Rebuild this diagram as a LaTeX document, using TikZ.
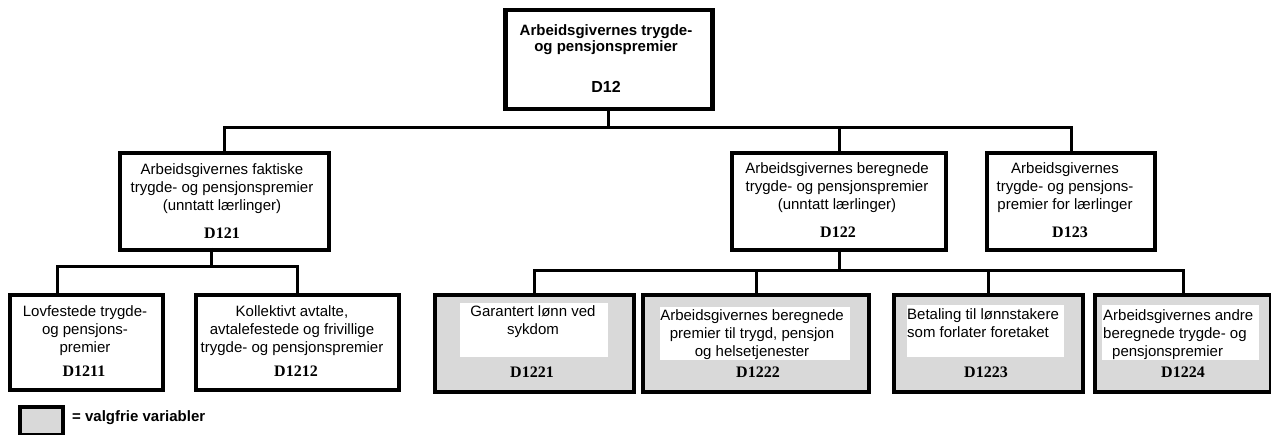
\documentclass[tikz,border=0pt]{standalone}
\usepackage{fontspec}
\setmainfont{Liberation Serif}
\setsansfont{Liberation Sans}
\begin{document}
\begin{tikzpicture}[x=1pt,y=-1pt,
  box/.style={draw, line width=4pt, anchor=north west, inner sep=0pt, fill=white},
  optbox/.style={box, fill=black!15},
  inner/.style={fill=white, anchor=north west, inner sep=0pt},
  lbl/.style={font=\sffamily\fontsize{15}{18}\selectfont, align=center, inner sep=0pt},
  lbll/.style={font=\sffamily\fontsize{15}{18}\selectfont, align=left, inner sep=0pt, anchor=west},
  code/.style={font=\rmfamily\bfseries\fontsize{16}{18}\selectfont, inner sep=0pt},
  conn/.style={line width=3pt}]
\useasboundingbox (0,0) rectangle (1271,435);

% boxes
\node[box, line width=4.5pt, minimum width=207pt, minimum height=99pt] (d12) at (503,8) {};
\node[box, minimum width=209pt, minimum height=97pt] (d121) at (118,151) {};
\node[box, minimum width=214pt, minimum height=97pt] (d122) at (730,151) {};
\node[box, minimum width=168pt, minimum height=97pt] (d123) at (985,151) {};
\node[box, minimum width=153pt, minimum height=95pt] (d1211) at (8,293) {};
\node[box, minimum width=203pt, minimum height=95pt] (d1212) at (194,293) {};
\node[optbox, minimum width=199pt, minimum height=97pt] (d1221) at (433,293) {};
\node[optbox, minimum width=226pt, minimum height=97pt] (d1222) at (641,293) {};
\node[optbox, minimum width=189pt, minimum height=97pt] (d1223) at (892,293) {};
\node[optbox, minimum width=176pt, minimum height=97pt] (d1224) at (1093,293) {};

% white inner areas of optional boxes
\node[inner, minimum width=148pt, minimum height=54pt] (w1221) at (460,303) {};
\node[inner, minimum width=190pt, minimum height=53pt] (w1222) at (660,307) {};
\node[inner, minimum width=157pt, minimum height=52pt] (w1223) at (907,305) {};
\node[inner, minimum width=157pt, minimum height=55pt] (w1224) at (1102,305) {};

% texts
\node[lbl, font=\sffamily\bfseries\fontsize{15}{16}\selectfont] (t12) at (606,40) {Arbeidsgivernes trygde-\\og pensjonspremier};
\node[lbl, font=\sffamily\bfseries\fontsize{16}{18}\selectfont] (c12) at (606,87) {D12};
\node[lbl] (t121) at (222,189) {Arbeidsgivernes faktiske\\trygde- og pensjonspremier\\(unntatt lærlinger)};
\node[code] (c121) at (222,233) {D121};
\node[lbl] (t122) at (837,188) {Arbeidsgivernes beregnede\\trygde- og pensjonspremier\\(unntatt lærlinger)};
\node[code] (c122) at (838,232) {D122};
\node[lbl] (t123) at (1065,188) {Arbeidsgivernes\\trygde- og pensjons-\\premier for lærlinger};
\node[code] (c123) at (1070,232) {D123};
\node[lbl] (t1211) at (85,331) {Lovfestede trygde-\\og pensjons-\\premier};
\node[code] (c1211) at (84,371) {D1211};
\node[lbl] (t1212) at (292,331) {Kollektivt avtalte,\\avtalefestede og frivillige\\trygde- og pensjonspremier};
\node[code] (c1212) at (296,371) {D1212};
\node[lbl] (t1221) at (533,322) {Garantert lønn ved\\sykdom};
\node[code] (c1221) at (532,372) {D1221};
\node[lbl] (t1222) at (752,335) {Arbeidsgivernes beregnede\\premier til trygd, pensjon\\og helsetjenester};
\node[code] (c1222) at (758,372) {D1222};
\node[lbll] (t1223) at (907,323) {Betaling til lønnstakere\\som forlater foretaket};
\node[code] (c1223) at (986,372) {D1223};
\node[lbll] (t1224) at (1103,335) {Arbeidsgivernes andre\\beregnede trygde- og\\\hspace*{9pt}pensjonspremier};
\node[code] (c1224) at (1183,372) {D1224};

% legend
\node[optbox, line width=3.5pt, minimum width=43pt, minimum height=28pt] (leg) at (18,405) {};
\node[font=\sffamily\bfseries\fontsize{15}{16}\selectfont, inner sep=0pt, anchor=west] (legt) at (72,418) {= valgfrie variabler};

% junction coordinates
\coordinate (bar1) at (0,128);
\coordinate (j1) at (211,267);
\coordinate (j2) at (838,271);
\coordinate (p1211) at (57,293);
\coordinate (p121) at (211,248);

% connectors
\draw[conn] (d12.south) -- (d12.south |- bar1);
\draw[conn] (d121.north) |- (d123.north |- bar1) -- (d123.north);
\draw[conn] (d122.north) -- (d122.north |- bar1);

\draw[conn] (p121) -- (j1);
\draw[conn] (p1211) |- (d1212.north |- j1) -- (d1212.north);

\draw[conn] (d122.south) -- (d122.south |- j2);
\draw[conn] (d1221.north) |- (d1224.north |- j2) -- (d1224.north);
\draw[conn] (d1222.north) -- (d1222.north |- j2);
\draw[conn] (d1223.north) -- (d1223.north |- j2);
\end{tikzpicture}
\end{document}
